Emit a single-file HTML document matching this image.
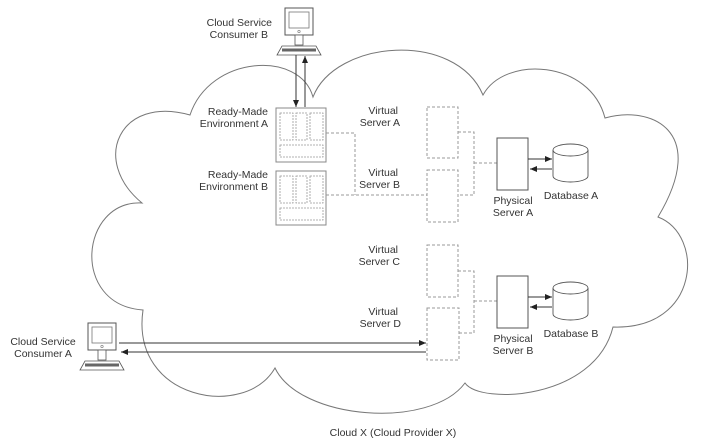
<!DOCTYPE html>
<html><head><meta charset="utf-8"><style>
html,body{margin:0;padding:0;background:#fff;}
svg{display:block;}
text{font-family:"Liberation Sans",sans-serif;font-size:10.5px;fill:#333;}
</style></head><body>
<svg width="707" height="447" viewBox="0 0 707 447" xmlns="http://www.w3.org/2000/svg">
<defs>
<marker id="ah" markerWidth="8" markerHeight="6" refX="7" refY="3" orient="auto" markerUnits="userSpaceOnUse">
<path d="M0,0 L7,3 L0,6 Z" fill="#222"/></marker>
<g id="comp">
<rect x="0" y="0" width="28" height="27" fill="#fff" stroke="#555" stroke-width="1"/>
<rect x="4" y="4" width="20" height="16" fill="#fff" stroke="#777" stroke-width="0.8"/>
<circle cx="14" cy="23.5" r="1.2" fill="none" stroke="#777" stroke-width="0.6"/>
<rect x="10" y="27" width="8" height="10" fill="#fff" stroke="#555" stroke-width="0.8"/>
<path d="M-3,38 L31,38 L36,47 L-8,47 Z" fill="#fff" stroke="#555" stroke-width="0.8"/>
<rect x="-3" y="40.5" width="34" height="3" fill="#666"/>
</g>
<g id="env">
<rect x="0" y="0" width="50" height="54" fill="#fff" stroke="#888" stroke-width="1"/>
<g fill="none" stroke="#999" stroke-width="0.8" stroke-dasharray="2,1">
<rect x="4" y="5" width="13" height="27"/><rect x="20" y="5" width="11" height="27"/><rect x="34" y="5" width="13" height="27"/>
<rect x="4" y="37" width="43" height="12"/></g>
</g>
<g id="db">
<path d="M0,6 L0,32 A17.5,6 0 0 0 35,32 L35,6" fill="#fff" stroke="#555" stroke-width="0.9"/>
<ellipse cx="17.5" cy="6" rx="17.5" ry="6" fill="#fff" stroke="#555" stroke-width="0.9"/>
</g>
</defs>

<!-- cloud -->
<path d="M313,97 C335,40 455,30 483,95 C505,55 590,60 605,118 C650,105 710,130 658,217 C705,235 700,330 613,327 C595,400 480,405 465,383 C430,430 300,420 275,368 C245,420 130,400 143,310 C70,305 80,200 142,203 C90,160 120,95 190,115 C210,55 300,50 313,97 Z" fill="#fff" stroke="#777" stroke-width="1"/>

<!-- consumer B -->
<use href="#comp" x="285" y="8"/>
<text x="272" y="26" text-anchor="end">Cloud Service</text>
<text x="268" y="38" text-anchor="end">Consumer B</text>
<line x1="296" y1="55" x2="296" y2="107" stroke="#333" stroke-width="1" marker-end="url(#ah)"/>
<line x1="305" y1="107" x2="305" y2="56" stroke="#333" stroke-width="1" marker-end="url(#ah)"/>

<!-- envs -->
<use href="#env" x="276" y="108"/>
<use href="#env" x="276" y="171"/>
<text x="268" y="115" text-anchor="end">Ready-Made</text>
<text x="268" y="127" text-anchor="end">Environment A</text>
<text x="268" y="178" text-anchor="end">Ready-Made</text>
<text x="268" y="190" text-anchor="end">Environment B</text>

<g fill="none" stroke="#999" stroke-width="1" stroke-dasharray="3,2">
<path d="M326,133 L355,133 L355,195"/>
<path d="M326,195 L427,195"/>
<rect x="427" y="107" width="31" height="51"/>
<rect x="427" y="170" width="31" height="52"/>
<path d="M458,132 L474,132 L474,195 L458,195 M474,163 L497,163"/>
<rect x="427" y="245" width="31" height="52"/>
<rect x="427" y="308" width="32" height="52"/>
<path d="M458,271 L474,271 L474,333 L459,333 M474,301 L497,301"/>
</g>

<text x="398" y="114" text-anchor="end">Virtual</text>
<text x="400" y="126" text-anchor="end">Server A</text>
<text x="398" y="176" text-anchor="end">Virtual</text>
<text x="400" y="188" text-anchor="end">Server B</text>
<text x="398" y="253" text-anchor="end">Virtual</text>
<text x="400" y="265" text-anchor="end">Server C</text>
<text x="398" y="315" text-anchor="end">Virtual</text>
<text x="401" y="327" text-anchor="end">Server D</text>

<!-- physical A -->
<rect x="497" y="138" width="31" height="52" fill="#fff" stroke="#555" stroke-width="1"/>
<text x="513" y="204" text-anchor="middle">Physical</text>
<text x="513" y="216" text-anchor="middle">Server A</text>
<use href="#db" x="553" y="144"/>
<text x="571" y="199" text-anchor="middle">Database A</text>
<line x1="528" y1="159" x2="552" y2="159" stroke="#333" marker-end="url(#ah)"/>
<line x1="552" y1="169" x2="530" y2="169" stroke="#333" marker-end="url(#ah)"/>

<!-- physical B -->
<rect x="497" y="276" width="31" height="52" fill="#fff" stroke="#555" stroke-width="1"/>
<text x="513" y="342" text-anchor="middle">Physical</text>
<text x="513" y="354" text-anchor="middle">Server B</text>
<use href="#db" x="553" y="282"/>
<text x="571" y="337" text-anchor="middle">Database B</text>
<line x1="528" y1="297" x2="552" y2="297" stroke="#333" marker-end="url(#ah)"/>
<line x1="552" y1="307" x2="530" y2="307" stroke="#333" marker-end="url(#ah)"/>

<!-- consumer A -->
<use href="#comp" x="88" y="323"/>
<text x="43" y="345" text-anchor="middle">Cloud Service</text>
<text x="43" y="357" text-anchor="middle">Consumer A</text>
<line x1="119" y1="343" x2="426" y2="343" stroke="#333" marker-end="url(#ah)"/>
<line x1="426" y1="352" x2="121" y2="352" stroke="#333" marker-end="url(#ah)"/>

<text x="393" y="436" text-anchor="middle">Cloud X (Cloud Provider X)</text>
</svg>
</body></html>
